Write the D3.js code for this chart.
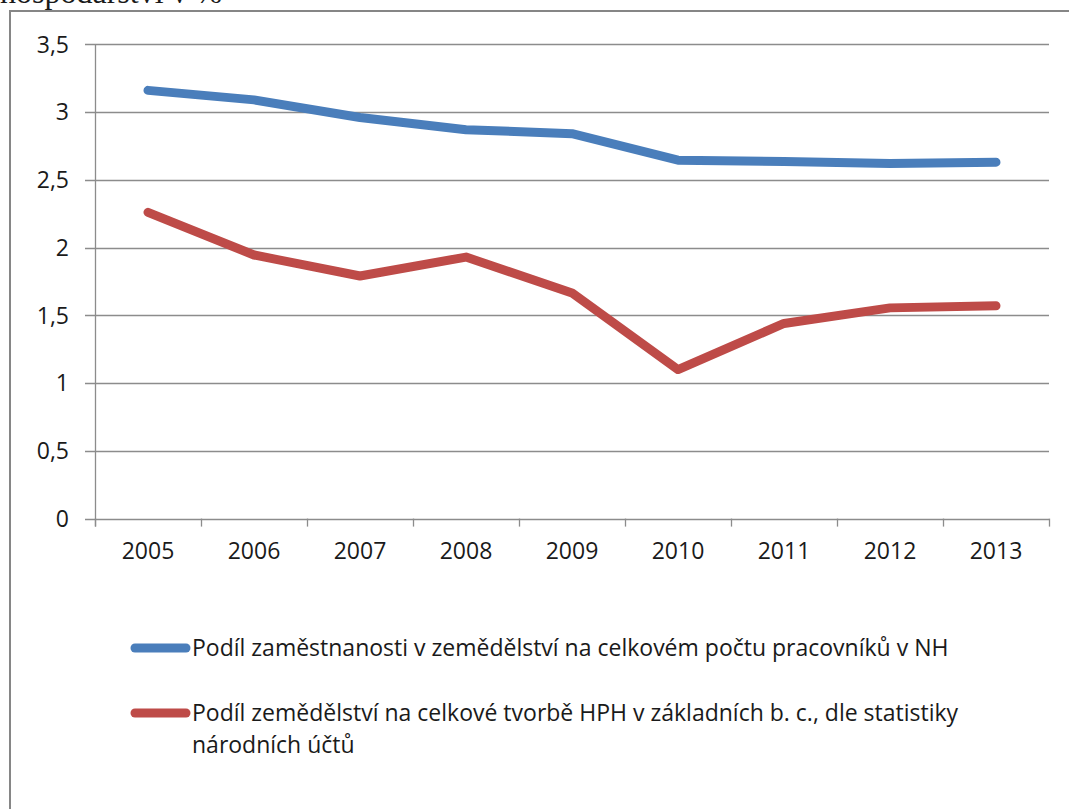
<html>
<head>
<meta charset="utf-8">
<script src="https://d3js.org/d3.v7.min.js"></script>
<style>
  body { margin: 0; background: #fff; }
  svg text { font-family: "Open Sans", sans-serif; fill: #1a1a1a; }
  .grid line { stroke: #8c8c8c; stroke-width: 1.3; }
</style>
</head>
<body>
<svg width="1069" height="809"></svg>
<script>
// chart data
var years = ["2005", "2006", "2007", "2008", "2009", "2010", "2011", "2012", "2013"];
var employment = [3.16, 3.09, 2.96, 2.87, 2.84, 2.645, 2.635, 2.62, 2.63];
var gva = [2.26, 1.945, 1.79, 1.93, 1.665, 1.10, 1.44, 1.555, 1.57];
var yTicks = [0, 0.5, 1, 1.5, 2, 2.5, 3, 3.5];
var legendLabels = [
  ["Podíl zaměstnanosti v zemědělství na celkovém počtu pracovníků v NH"],
  ["Podíl zemědělství na celkové tvorbě HPH v základních b. c., dle statistiky", "národních účtů"]
];
var colors = ["#4a7ebb", "#be4b48"];

var svg = d3.select("svg");

// cut off caption from the page above
svg.append("text")
  .attr("x", 0).attr("y", 3)
  .style("font-family", "'Liberation Serif', serif")
  .style("font-size", "32px")
  .text("hospodářství v %");

// chart frame
svg.append("path")
  .attr("d", "M10,809 V11 H1069")
  .attr("fill", "none")
  .attr("stroke", "#868686")
  .attr("stroke-width", 2);

var plotLeft = 95, plotRight = 1049, plotTop = 44.3, plotBottom = 518.6;

var x = d3.scaleBand().domain(years).range([plotLeft, plotRight]);
var y = d3.scaleLinear().domain([0, 3.5]).range([plotBottom, plotTop]);

// horizontal gridlines (with small outward tick)
svg.append("g")
  .attr("class", "grid")
  .selectAll("line")
  .data(yTicks)
  .enter()
  .append("line")
  .attr("x1", plotLeft - 10)
  .attr("x2", plotRight)
  .attr("y1", function (d) { return Math.round(y(d)) + 0.5; })
  .attr("y2", function (d) { return Math.round(y(d)) + 0.5; });

// y axis line
svg.append("line")
  .attr("x1", plotLeft + 0.5).attr("x2", plotLeft + 0.5)
  .attr("y1", plotTop).attr("y2", plotBottom + 8)
  .attr("stroke", "#8c8c8c").attr("stroke-width", 1.3);

// x axis tick marks at category boundaries
var bounds = years.map(function (d) { return x(d); }).concat([plotRight]);
svg.append("g")
  .selectAll("line")
  .data(bounds)
  .enter()
  .append("line")
  .attr("x1", function (d) { return Math.round(d) + 0.5; })
  .attr("x2", function (d) { return Math.round(d) + 0.5; })
  .attr("y1", plotBottom)
  .attr("y2", plotBottom + 8)
  .attr("stroke", "#8c8c8c").attr("stroke-width", 1.3);

// y tick labels
svg.append("g")
  .selectAll("text")
  .data(yTicks)
  .enter()
  .append("text")
  .attr("x", 69)
  .attr("y", function (d) { return y(d); })
  .attr("dy", "0.36em")
  .attr("text-anchor", "end")
  .style("font-size", "23px")
  .text(function (d) { return String(d).replace(".", ","); });

// x tick labels
svg.append("g")
  .selectAll("text")
  .data(years)
  .enter()
  .append("text")
  .attr("x", function (d) { return x(d) + x.bandwidth() / 2; })
  .attr("y", 551)
  .attr("dy", "0.36em")
  .attr("text-anchor", "middle")
  .style("font-size", "23px")
  .text(function (d) { return d; });

// lines
var line = d3.line()
  .x(function (d, i) { return x(years[i]) + x.bandwidth() / 2; })
  .y(function (d) { return y(d); });

[employment, gva].forEach(function (series, k) {
  svg.append("path")
    .datum(series)
    .attr("d", line)
    .attr("fill", "none")
    .attr("stroke", colors[k])
    .attr("stroke-width", 9)
    .attr("stroke-linecap", "round")
    .attr("stroke-linejoin", "round");
});

// legend
var legendY = [648, 713];
legendLabels.forEach(function (lines, k) {
  svg.append("line")
    .attr("x1", 135).attr("x2", 186)
    .attr("y1", legendY[k]).attr("y2", legendY[k])
    .attr("stroke", colors[k])
    .attr("stroke-width", 9)
    .attr("stroke-linecap", "round");
  lines.forEach(function (t, j) {
    svg.append("text")
      .attr("x", 192)
      .attr("y", legendY[k] + j * 32)
      .attr("dy", "0.36em")
      .style("font-size", "23px")
      .text(t);
  });
});
</script>
</body>
</html>
